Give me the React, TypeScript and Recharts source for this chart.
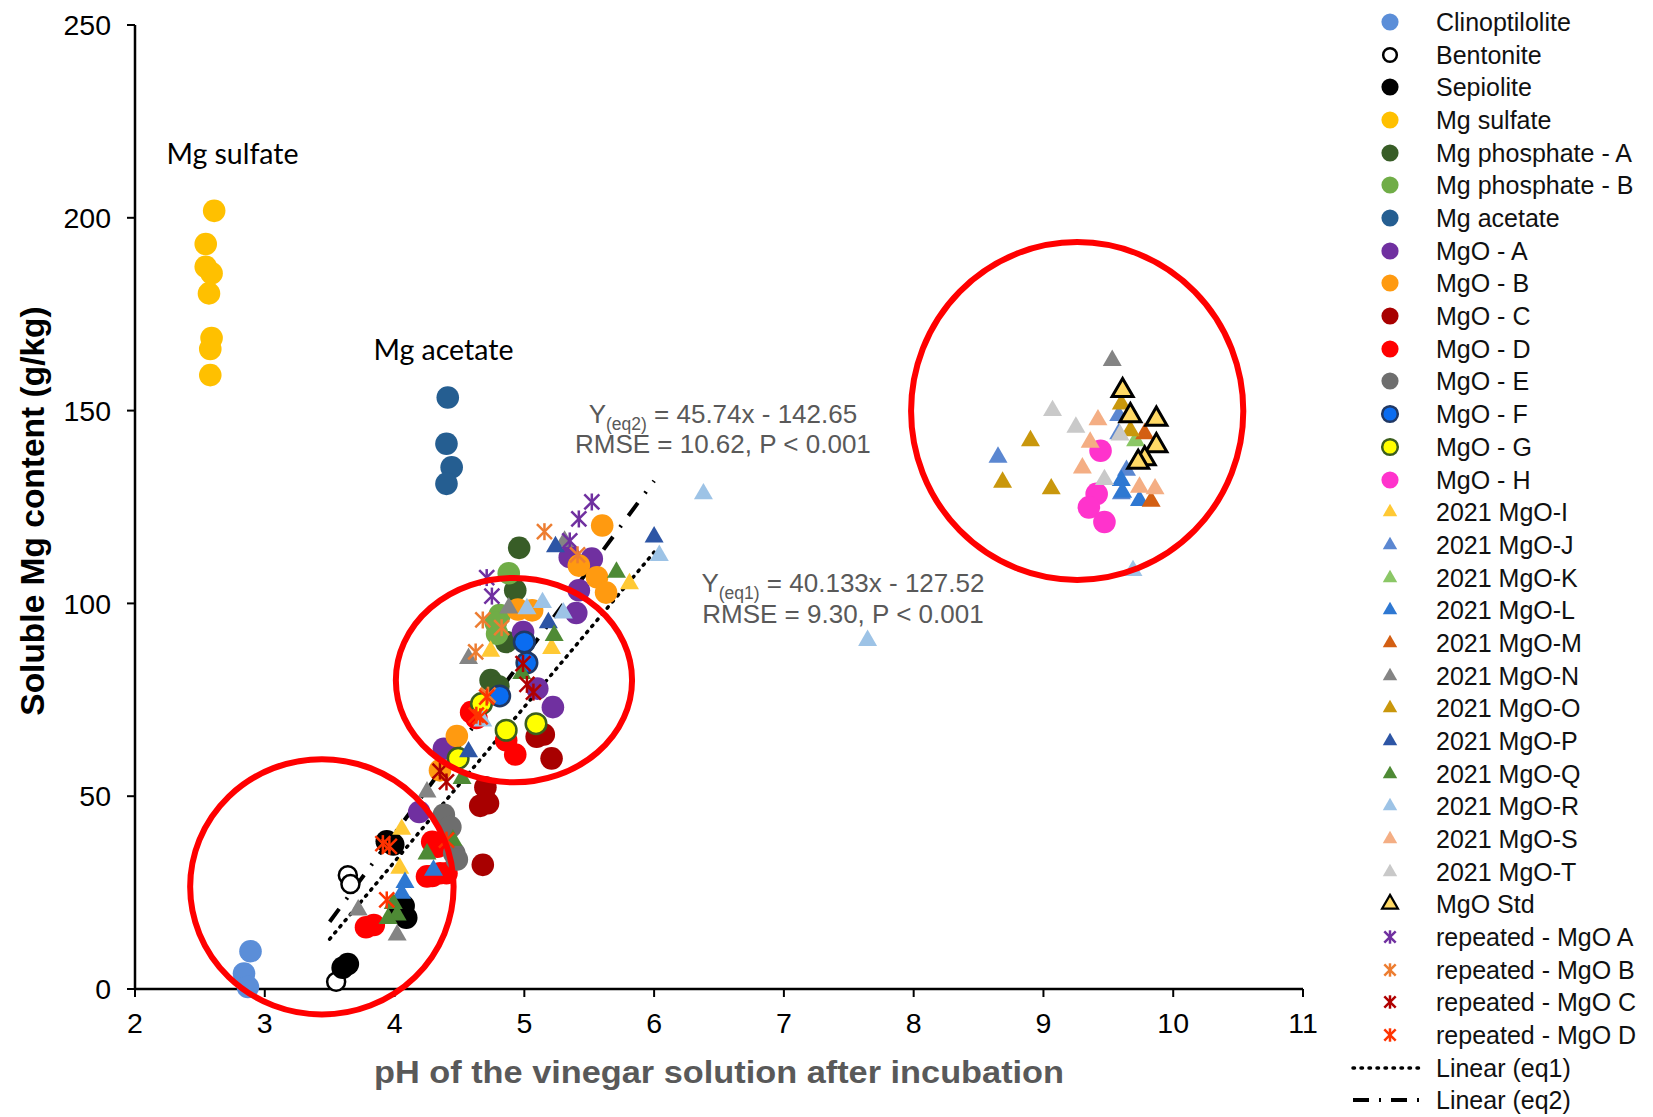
import React from 'react';
import { ScatterChart, Scatter, XAxis, YAxis, Label, ReferenceDot, ReferenceLine } from 'recharts';

type Pt = { x: number; y: number };
const pts = (rows: number[][]): Pt[] => rows.map(([x, y]) => ({ x, y }));

// axis ticks
const xTicks = [2, 3, 4, 5, 6, 7, 8, 9, 10, 11];
const yTicks = [0, 50, 100, 150, 200, 250];

// series values (pH, soluble Mg g/kg)
const clinoptilolite = pts([[2.89, 9.8], [2.84, 4.0], [2.87, 0.5]]);
const bentonite = pts([[3.64, 29.5], [3.66, 27.2], [3.55, 1.9]]);
const sepiolite = pts([[3.6, 5.5], [3.64, 6.5], [3.94, 38.3], [3.99, 37.5], [4.03, 20.0], [4.07, 21.5], [4.09, 18.5]]);
const mgSulfate = pts([[2.61, 201.8], [2.545, 193.2], [2.545, 187.3], [2.59, 185.6], [2.57, 180.4], [2.59, 168.8], [2.58, 166.0], [2.58, 159.2]]);
const mgPhosA = pts([[4.96, 114.4], [4.93, 103.4], [4.86, 90.0], [4.74, 80.1], [4.8, 78.5]]);
const mgPhosB = pts([[4.88, 107.8], [4.81, 97.0], [4.79, 92.1], [4.78, 95.0]]);
const mgAcetate = pts([[4.41, 153.4], [4.4, 141.4], [4.44, 135.3], [4.4, 131.0]]);
const mgoA = pts([[5.35, 112.0], [5.52, 111.6], [5.42, 103.4], [5.4, 97.5], [4.99, 92.6], [5.1, 77.9], [5.22, 73.1], [4.38, 62.3], [4.19, 45.9]]);
const mgoB = pts([[5.6, 120.2], [5.42, 109.8], [5.56, 106.8], [5.63, 102.8], [4.95, 98.4], [5.06, 98.2], [4.48, 65.6], [4.35, 56.7]]);
const mgoC = pts([[5.095, 65.4], [5.15, 66.0], [5.21, 59.8], [4.7, 52.3], [4.66, 47.5], [4.72, 48.2], [4.68, 32.2]]);
const mgoD = pts([[4.59, 71.8], [4.63, 70.3], [4.86, 64.5], [4.93, 60.8], [4.25, 29.2], [4.29, 29.3], [4.35, 30.0], [4.4, 30.0], [4.29, 38.2], [4.33, 36.9], [3.78, 16.0], [3.84, 16.6]]);
const mgoE = pts([[4.38, 45.2], [4.43, 42.0], [4.46, 35.2], [4.48, 33.6]]);
const mgoF = pts([[5.0, 90.0], [5.02, 84.6], [4.81, 76.0]]);
const mgoG = pts([[4.67, 74.0], [4.86, 67.1], [5.09, 68.8], [4.49, 59.8]]);
const mgoH = pts([[9.44, 139.6], [9.41, 128.4], [9.35, 124.9], [9.47, 121.1]]);
const mgoI = pts([[5.81, 105.1], [5.21, 88.3], [4.74, 87.6], [4.055, 41.4], [4.04, 31.3]]);
const mgoJ = pts([[8.65, 137.9], [9.58, 148.7], [9.58, 144.0], [9.64, 134.5], [9.6, 128.4]]);
const mgoK = pts([[9.71, 142.2], [9.72, 137.0]]);
const mgoL = pts([[9.6, 131.9], [9.61, 128.8], [9.74, 126.7], [4.08, 27.6], [4.055, 24.8], [4.3, 30.8]]);
const mgoM = pts([[9.78, 144.0], [9.83, 126.5]]);
const mgoN = pts([[9.53, 163.0], [5.31, 116.1], [4.88, 98.8], [4.57, 85.7], [4.25, 51.1], [3.72, 20.5], [4.02, 14.0]]);
const mgoO = pts([[8.9, 142.2], [8.685, 131.4], [9.06, 129.7], [9.6, 151.7], [9.67, 144.8]]);
const mgoP = pts([[5.24, 114.7], [6.0, 117.2], [5.185, 95.0], [4.57, 61.5]]);
const mgoQ = pts([[5.71, 108.1], [5.23, 91.7], [4.98, 81.8], [4.52, 54.6], [4.25, 35.0], [4.45, 38.6], [3.99, 22.2], [4.02, 19.2], [3.95, 18.3]]);
const mgoR = pts([[6.04, 112.4], [6.38, 128.4], [7.645, 90.4], [9.69, 108.5], [5.02, 98.6], [5.14, 100.2], [5.3, 97.5], [4.68, 69.5]]);
const mgoS = pts([[9.42, 147.6], [9.36, 141.8], [9.3, 135.1], [9.74, 130.1], [9.86, 129.7]]);
const mgoT = pts([[9.07, 150.0], [9.25, 145.7], [9.47, 132.1], [9.59, 143.7]]);
const mgoStd = pts([[9.61, 155.2], [9.67, 148.7], [9.87, 147.8], [9.87, 140.9], [9.78, 137.5], [9.73, 136.6]]);
const repA = pts([[5.52, 126.3], [5.42, 121.9], [5.35, 116.2], [4.71, 106.7], [4.75, 101.9]]);
const repB = pts([[5.155, 118.6], [5.41, 112.6], [4.68, 95.7], [4.825, 93.7], [4.625, 87.4], [4.72, 76.2]]);
const repC = pts([[4.99, 84.4], [5.02, 79.0], [5.07, 77.0], [4.35, 56.5], [4.4, 53.7]]);
const repD = pts([[4.71, 75.7], [4.66, 70.6], [4.63, 71.0], [3.91, 37.7], [3.96, 37.0], [4.4, 38.6], [3.94, 23.1]]);

// fitted lines as printed on the figure
const eq1 = { slope: 40.133, intercept: -127.52, from: 3.5, to: 6.0 };
const eq2 = { slope: 45.74, intercept: -142.65, from: 3.5, to: 6.0 };

// red highlight rings (centre and radii in axis units)
const rings = [
  { x: 3.44, y: 26.5, rx: 1.015, ry: 33.1 },
  { x: 4.92, y: 80.1, rx: 0.91, ry: 26.5 },
  { x: 9.26, y: 149.9, rx: 1.28, ry: 43.8 },
];

type Kind = 'circle' | 'open' | 'outlined' | 'triangle' | 'std' | 'star';
interface SeriesDef { name: string; kind: Kind; fill: string; stroke?: string; data: Pt[] }

const SERIES: SeriesDef[] = [
  { name: 'Clinoptilolite', kind: 'circle', fill: '#5B8ED8', data: clinoptilolite },
  { name: 'Bentonite', kind: 'open', fill: '#ffffff', stroke: '#000000', data: bentonite },
  { name: 'Sepiolite', kind: 'circle', fill: '#000000', data: sepiolite },
  { name: 'Mg sulfate', kind: 'circle', fill: '#FFC000', data: mgSulfate },
  { name: 'Mg phosphate - A', kind: 'circle', fill: '#385D27', data: mgPhosA },
  { name: 'Mg phosphate - B', kind: 'circle', fill: '#70AD47', data: mgPhosB },
  { name: 'Mg acetate', kind: 'circle', fill: '#255E91', data: mgAcetate },
  { name: 'MgO - A', kind: 'circle', fill: '#7030A0', data: mgoA },
  { name: 'MgO - B', kind: 'circle', fill: '#FF9A10', data: mgoB },
  { name: 'MgO - C', kind: 'circle', fill: '#A80000', data: mgoC },
  { name: 'MgO - D', kind: 'circle', fill: '#FF0000', data: mgoD },
  { name: 'MgO - E', kind: 'circle', fill: '#6E6E6E', data: mgoE },
  { name: 'MgO - F', kind: 'outlined', fill: '#0A6CF0', stroke: '#203864', data: mgoF },
  { name: 'MgO - G', kind: 'outlined', fill: '#FFFF00', stroke: '#3B5E1D', data: mgoG },
  { name: 'MgO - H', kind: 'circle', fill: '#FF33CC', data: mgoH },
  { name: '2021 MgO-I', kind: 'triangle', fill: '#FFC934', data: mgoI },
  { name: '2021 MgO-J', kind: 'triangle', fill: '#5B87D1', data: mgoJ },
  { name: '2021 MgO-K', kind: 'triangle', fill: '#8BC766', data: mgoK },
  { name: '2021 MgO-L', kind: 'triangle', fill: '#2E78D2', data: mgoL },
  { name: '2021 MgO-M', kind: 'triangle', fill: '#D35F13', data: mgoM },
  { name: '2021 MgO-N', kind: 'triangle', fill: '#848484', data: mgoN },
  { name: '2021 MgO-O', kind: 'triangle', fill: '#C9970C', data: mgoO },
  { name: '2021 MgO-P', kind: 'triangle', fill: '#2D55A5', data: mgoP },
  { name: '2021 MgO-Q', kind: 'triangle', fill: '#4E8A35', data: mgoQ },
  { name: '2021 MgO-R', kind: 'triangle', fill: '#9DC3E6', data: mgoR },
  { name: '2021 MgO-S', kind: 'triangle', fill: '#F4AE84', data: mgoS },
  { name: '2021 MgO-T', kind: 'triangle', fill: '#C9C9C9', data: mgoT },
  { name: 'MgO Std', kind: 'std', fill: '#FFD966', stroke: '#000000', data: mgoStd },
  { name: 'repeated - MgO A', kind: 'star', fill: '#7030A0', data: repA },
  { name: 'repeated - MgO B', kind: 'star', fill: '#ED7D31', data: repB },
  { name: 'repeated - MgO C', kind: 'star', fill: '#B00000', data: repC },
  { name: 'repeated - MgO D', kind: 'star', fill: '#FF3300', data: repD },
];

const W = 1653;
const H = 1117;
const MARGIN = { top: 25, right: 350, bottom: 0, left: 0 };
const Y_AXIS_W = 135;
const X_AXIS_H = 128;
// pixels per axis unit, from the fixed plot box
const X_PX = (W - MARGIN.right - MARGIN.left - Y_AXIS_W) / 9;
const Y_PX = (H - MARGIN.top - X_AXIS_H) / 250;

const FONT = '"Liberation Sans", Arial, sans-serif';
const GREY_TEXT = '#595959';

const Marker = ({ kind, fill, stroke, cx, cy, scale = 1 }: { kind: Kind; fill: string; stroke?: string; cx: number; cy: number; scale?: number }) => {
  if (kind === 'circle') return <circle cx={cx} cy={cy} r={11.3 * scale} fill={fill} />;
  if (kind === 'open') return <circle cx={cx} cy={cy} r={9 * scale} fill="#fff" stroke={stroke} strokeWidth={2.5} />;
  if (kind === 'outlined') return <circle cx={cx} cy={cy} r={10.3 * scale} fill={fill} stroke={stroke} strokeWidth={2.5} />;
  if (kind === 'triangle' || kind === 'std') {
    const s = (kind === 'std' ? 21 : 19) * scale;
    const h = s * 0.866;
    const d = `M${cx},${cy - (h * 2) / 3} L${cx + s / 2},${cy + h / 3} L${cx - s / 2},${cy + h / 3} Z`;
    return kind === 'std'
      ? <path d={d} fill={fill} stroke={stroke} strokeWidth={3 * scale} strokeLinejoin="miter" />
      : <path d={d} fill={fill} />;
  }
  const a = 7.5 * scale;
  return (
    <g stroke={fill} strokeWidth={2.5} strokeLinecap="butt">
      <line x1={cx - a} y1={cy - a} x2={cx + a} y2={cy + a} />
      <line x1={cx - a} y1={cy + a} x2={cx + a} y2={cy - a} />
      <line x1={cx} y1={cy - a - 1} x2={cx} y2={cy + a + 1} />
    </g>
  );
};

const shapeFor = (s: SeriesDef) => (props: any) => {
  if (props.cx == null || props.cy == null) return <g />;
  return <Marker kind={s.kind} fill={s.fill} stroke={s.stroke} cx={props.cx} cy={props.cy} />;
};

const XTitle = (props: any) => {
  const vb = props.viewBox;
  return (
    <text x={vb.x + vb.width / 2} y={vb.y + 94} textAnchor="middle" fontFamily={FONT} fontWeight="bold"
      fontSize={31} fill={GREY_TEXT} textLength={690} lengthAdjust="spacingAndGlyphs">
      pH of the vinegar solution after incubation
    </text>
  );
};

const YTitle = (props: any) => {
  const vb = props.viewBox;
  const cx = vb.x + 32;
  const cy = vb.y + vb.height / 2 + 4;
  return (
    <text x={cx} y={cy} transform={`rotate(-90 ${cx} ${cy})`} textAnchor="middle" dominantBaseline="central"
      fontFamily={FONT} fontWeight="bold" fontSize={33.5} fill="#000">
      Soluble Mg content (g/kg)
    </text>
  );
};

const noteShape = (text: string) => (p: any) => (
  <text x={p.cx} y={p.cy + 10} textAnchor="middle" fontFamily="Lato, 'Open Sans', sans-serif" fontSize={28.5} fill="#000">
    {text}
  </text>
);

const eqShape = (sub: string, rest: string, stats: string, gap: number) => (p: any) => (
  <g fontFamily={FONT} fill={GREY_TEXT}>
    <text textAnchor="middle" fontSize={26}>
      <tspan x={p.cx} y={p.cy + 9}>Y</tspan>
      <tspan fontSize={17.5} dy={7}>{sub}</tspan>
      <tspan dy={-7}>{rest}</tspan>
    </text>
    <text x={p.cx} y={p.cy + 9 + gap} textAnchor="middle" fontSize={26}>{stats}</text>
  </g>
);

const ringShape = (rx: number, ry: number) => (p: any) => (
  <ellipse cx={p.cx} cy={p.cy} rx={rx * X_PX} ry={ry * Y_PX} fill="none" stroke="#FF0000" strokeWidth={6} />
);

const LEGEND_TOP = 22;
const LEGEND_STEP = 32.68;

const ChartLegend = () => {
  const rowStyle = (i: number): React.CSSProperties => ({
    position: 'absolute', left: 0, top: LEGEND_TOP + i * LEGEND_STEP - 15, height: 30, width: 323,
  });
  const textStyle: React.CSSProperties = {
    position: 'absolute', left: 106, top: 0, lineHeight: '30px', fontSize: 25, fontFamily: FONT, color: '#111', whiteSpace: 'nowrap',
  };
  return (
    <div style={{ position: 'absolute', left: 1330, top: 0, width: 323, height: H }}>
      {SERIES.map((s, i) => (
        <div key={s.name} style={rowStyle(i)}>
          <svg width={30} height={30} style={{ position: 'absolute', left: 44.5, top: 0 }}>
            <Marker kind={s.kind} fill={s.fill} stroke={s.stroke} cx={15} cy={15} scale={s.kind === 'std' ? 0.75 : 0.76} />
          </svg>
          <span style={textStyle}>{s.name}</span>
        </div>
      ))}
      {[
        { name: 'Linear (eq1)', dash: '1.5 6.5', width: 3.5, cap: 'round' as const },
        { name: 'Linear (eq2)', dash: '16 10 2 10', width: 4, cap: 'butt' as const },
      ].map((l, j) => (
        <div key={l.name} style={rowStyle(SERIES.length + j)}>
          <svg width={76} height={30} style={{ position: 'absolute', left: 20, top: 0 }}>
            <line x1={3} y1={15} x2={74} y2={15} stroke="#000" strokeWidth={l.width} strokeDasharray={l.dash} strokeLinecap={l.cap} />
          </svg>
          <span style={textStyle}>{l.name}</span>
        </div>
      ))}
    </div>
  );
};

const lineEnds = (e: typeof eq1) => [
  { x: e.from, y: e.slope * e.from + e.intercept },
  { x: e.to, y: e.slope * e.to + e.intercept },
];

export default function App() {
  const tickStyle = { fill: '#000', fontSize: 28.5, fontFamily: FONT };
  return (
    <div style={{ position: 'absolute', left: 0, top: 0, width: W, height: H, background: '#fff', overflow: 'hidden' }}>
      <ScatterChart width={W} height={H} margin={MARGIN}>
        <XAxis type="number" dataKey="x" domain={[2, 11]} ticks={xTicks} interval={0} height={X_AXIS_H}
          axisLine={{ stroke: '#000', strokeWidth: 2.5 }} tickLine={{ stroke: '#000', strokeWidth: 2 }}
          tickSize={8} tickMargin={16} tick={tickStyle}>
          <Label content={XTitle} />
        </XAxis>
        <YAxis type="number" dataKey="y" domain={[0, 250]} ticks={yTicks} interval={0} width={Y_AXIS_W}
          axisLine={{ stroke: '#000', strokeWidth: 2.5 }} tickLine={{ stroke: '#000', strokeWidth: 2 }}
          tickSize={8} tickMargin={16} tick={tickStyle}>
          <Label content={YTitle} />
        </YAxis>
        {SERIES.map((s) => (
          <Scatter key={s.name} name={s.name} data={s.data} shape={shapeFor(s)} isAnimationActive={false} />
        ))}
        <ReferenceLine segment={lineEnds(eq1)} stroke="#000" strokeWidth={3.5} strokeDasharray="1.5 6.5"
          strokeLinecap="round" ifOverflow="visible" />
        <ReferenceLine segment={lineEnds(eq2)} stroke="#000" strokeWidth={4} strokeDasharray="16 12 2 12"
          ifOverflow="visible" />
        {rings.map((r, i) => (
          <ReferenceDot key={`ring-${i}`} x={r.x} y={r.y} r={1} ifOverflow="visible" shape={ringShape(r.rx, r.ry)} />
        ))}
        <ReferenceDot x={2.751} y={216.6} r={1} ifOverflow="visible" shape={noteShape('Mg sulfate')} />
        <ReferenceDot x={4.377} y={165.8} r={1} ifOverflow="visible" shape={noteShape('Mg acetate')} />
        <ReferenceDot x={6.53} y={149} r={1} ifOverflow="visible"
          shape={eqShape('(eq2)', ' = 45.74x - 142.65', 'RMSE = 10.62, P < 0.001', 30)} />
        <ReferenceDot x={7.455} y={105.2} r={1} ifOverflow="visible"
          shape={eqShape('(eq1)', ' = 40.133x - 127.52', 'RMSE = 9.30, P < 0.001', 30.5)} />
      </ScatterChart>
      <ChartLegend />
    </div>
  );
}
